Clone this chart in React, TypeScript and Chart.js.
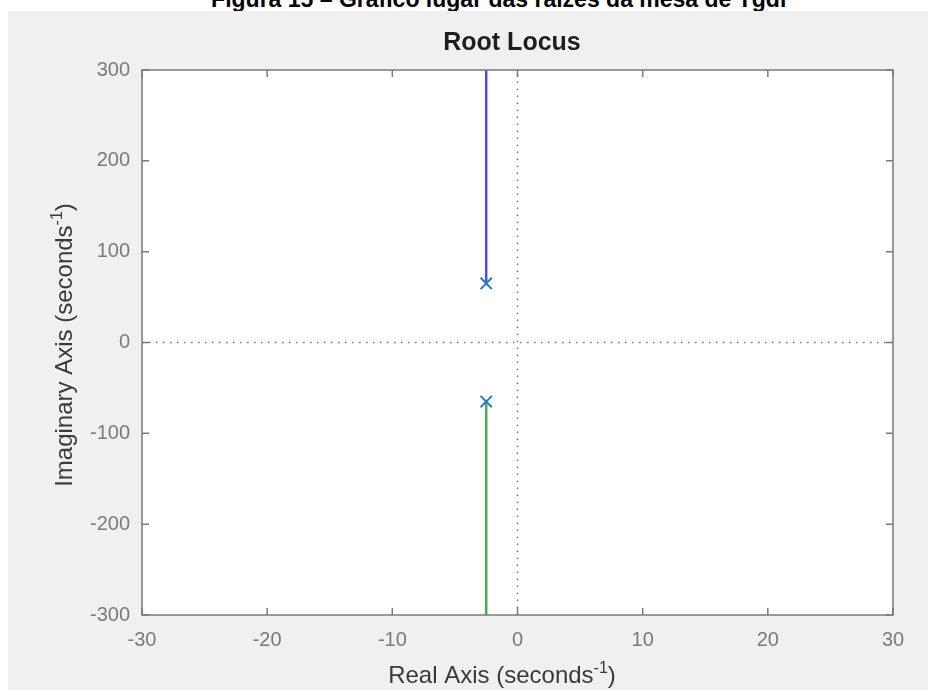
import React, { useEffect, useRef } from "react";
import { Chart, registerables } from "chart.js";

Chart.register(...registerables);

if (typeof document !== "undefined") {
  document.body.style.margin = "0";
}

const FONT = "'Liberation Sans', Arial, Helvetica, sans-serif";

// ---- data ----
const xTickValues = [-30, -20, -10, 0, 10, 20, 30];
const yTickValues = [-300, -200, -100, 0, 100, 200, 300];

const poleRe = [-2.5, -2.5];
const poleIm = [65, -65];

const branchUpRe = [-2.5, -2.5];
const branchUpIm = [65, 300];

const branchDownRe = [-2.5, -2.5];
const branchDownIm = [-65, -300];

const realZeroLineRe = [-30, 30];
const realZeroLineIm = [0, 0];
const imagZeroLineRe = [0, 0];
const imagZeroLineIm = [-300, 300];

const captionText = "Figura 15 – Gráfico lugar das raízes da mesa de Tgdr";
const titleText = "Root Locus";
const xLabelParts = [{ t: "Real Axis (seconds" }, { t: "-1", sup: true }, { t: ")" }];
const yLabelParts = [{ t: "Imaginary Axis (seconds" }, { t: "-1", sup: true }, { t: ")" }];

const toPoints = (xs: number[], ys: number[]) => xs.map((x, i) => ({ x, y: ys[i] }));

function drawRich(ctx: CanvasRenderingContext2D, parts: { t: string; sup?: boolean }[], x: number, y: number, size: number) {
  const supSize = Math.round(size * 0.68);
  const widths = parts.map((p) => {
    ctx.font = `${p.sup ? supSize : size}px ${FONT}`;
    return ctx.measureText(p.t).width;
  });
  const total = widths.reduce((a, b) => a + b, 0);
  let cx = x - total / 2;
  ctx.textAlign = "left";
  ctx.textBaseline = "alphabetic";
  parts.forEach((p, i) => {
    ctx.font = `${p.sup ? supSize : size}px ${FONT}`;
    ctx.fillText(p.t, cx, p.sup ? y - size * 0.42 : y);
    cx += widths[i];
  });
}

const framePlugin = {
  id: "matlabFrame",
  beforeDraw(chart: any) {
    const { ctx, chartArea: a, width, height } = chart;
    ctx.save();
    ctx.fillStyle = "#f0f0f0";
    ctx.fillRect(0, 0, width, height);
    ctx.fillStyle = "#ffffff";
    ctx.fillRect(a.left, a.top, a.right - a.left, a.bottom - a.top);
    ctx.restore();
  },
  afterDatasetsDraw(chart: any) {
    const { ctx, chartArea: a, scales } = chart;
    ctx.save();
    ctx.strokeStyle = "#7a7a7a";
    ctx.lineWidth = 1.5;
    ctx.strokeRect(a.left, a.top, a.right - a.left, a.bottom - a.top);
    const tl = 7;
    ctx.beginPath();
    scales.x.ticks.forEach((t: any) => {
      const px = scales.x.getPixelForValue(t.value);
      ctx.moveTo(px, a.bottom);
      ctx.lineTo(px, a.bottom - tl);
      ctx.moveTo(px, a.top);
      ctx.lineTo(px, a.top + tl);
    });
    scales.y.ticks.forEach((t: any) => {
      const py = scales.y.getPixelForValue(t.value);
      ctx.moveTo(a.left, py);
      ctx.lineTo(a.left + tl, py);
      ctx.moveTo(a.right, py);
      ctx.lineTo(a.right - tl, py);
    });
    ctx.stroke();
    ctx.restore();
  },
  afterDraw(chart: any) {
    const { ctx } = chart;
    ctx.save();
    ctx.fillStyle = "#1e1e1e";
    ctx.font = `bold 25px ${FONT}`;
    ctx.textAlign = "center";
    ctx.textBaseline = "alphabetic";
    ctx.fillText(titleText, 504, 39);
    ctx.fillStyle = "#3a3a3a";
    drawRich(ctx, xLabelParts, 494, 672, 24);
    ctx.translate(64, 334);
    ctx.rotate(-Math.PI / 2);
    drawRich(ctx, yLabelParts, 0, 0, 24);
    ctx.restore();
  },
};

export default function App() {
  const ref = useRef<HTMLCanvasElement | null>(null);

  useEffect(() => {
    if (!ref.current) return;
    document.body.style.margin = "0";
    const chart = new Chart(ref.current, {
      type: "scatter",
      data: {
        datasets: [
          {
            label: "poles",
            data: toPoints(poleRe, poleIm),
            showLine: false,
            pointStyle: "crossRot",
            pointRadius: 8,
            pointBorderWidth: 2,
            borderColor: "#2a78c8",
            backgroundColor: "#2a78c8",
            order: 0,
          },
          {
            label: "branch up",
            data: toPoints(branchUpRe, branchUpIm),
            showLine: true,
            borderColor: "#4c4cff",
            borderWidth: 2.5,
            pointRadius: 0,
            order: 1,
          },
          {
            label: "branch down",
            data: toPoints(branchDownRe, branchDownIm),
            showLine: true,
            borderColor: "#4aad4a",
            borderWidth: 2.5,
            pointRadius: 0,
            order: 1,
          },
          {
            label: "real zero line",
            data: toPoints(realZeroLineRe, realZeroLineIm),
            showLine: true,
            borderColor: "#7a7a7a",
            borderWidth: 1.6,
            borderDash: [1.6, 5.4],
            pointRadius: 0,
            order: 2,
          },
          {
            label: "imag zero line",
            data: toPoints(imagZeroLineRe, imagZeroLineIm),
            showLine: true,
            borderColor: "#7a7a7a",
            borderWidth: 1.6,
            borderDash: [1.6, 5.4],
            pointRadius: 0,
            order: 2,
          },
        ],
      },
      options: {
        animation: false,
        responsive: false,
        devicePixelRatio: 1,
        layout: { padding: { top: 59, right: 35, left: 0, bottom: 0 } },
        plugins: {
          legend: { display: false },
          tooltip: { enabled: false },
          title: { display: false },
        },
        scales: {
          x: {
            type: "linear",
            position: "bottom",
            min: -30,
            max: 30,
            afterBuildTicks: (s: any) => {
              s.ticks = xTickValues.map((v) => ({ value: v }));
            },
            afterFit: (s: any) => {
              s.height = 75;
            },
            ticks: {
              color: "#7a7a7a",
              font: { family: FONT, size: 20 },
              padding: 13,
              maxRotation: 0,
              autoSkip: false,
            },
            grid: { display: false, drawTicks: false },
            border: { display: false },
          },
          y: {
            type: "linear",
            position: "left",
            min: -300,
            max: 300,
            afterBuildTicks: (s: any) => {
              s.ticks = yTickValues.map((v) => ({ value: v }));
            },
            afterFit: (s: any) => {
              s.width = 134;
            },
            ticks: {
              color: "#7a7a7a",
              font: { family: FONT, size: 20 },
              padding: 12,
              autoSkip: false,
            },
            grid: { display: false, drawTicks: false },
            border: { display: false },
          },
        },
      },
      plugins: [framePlugin],
    } as any);
    return () => chart.destroy();
  }, []);

  return (
    <div
      style={{
        position: "relative",
        width: 928,
        height: 690,
        overflow: "hidden",
        background: "#ffffff",
      }}
    >
      <div
        style={{
          position: "absolute",
          top: -12.5,
          left: 36,
          width: 928,
          textAlign: "center",
          fontFamily: FONT,
          fontWeight: "bold",
          fontSize: 23,
          lineHeight: "23px",
          color: "#000",
          whiteSpace: "nowrap",
        }}
      >
        {captionText}
      </div>
      <canvas
        ref={ref}
        width={920}
        height={679}
        style={{ position: "absolute", top: 11, left: 8, width: 920, height: 679, display: "block" }}
      />
    </div>
  );
}
